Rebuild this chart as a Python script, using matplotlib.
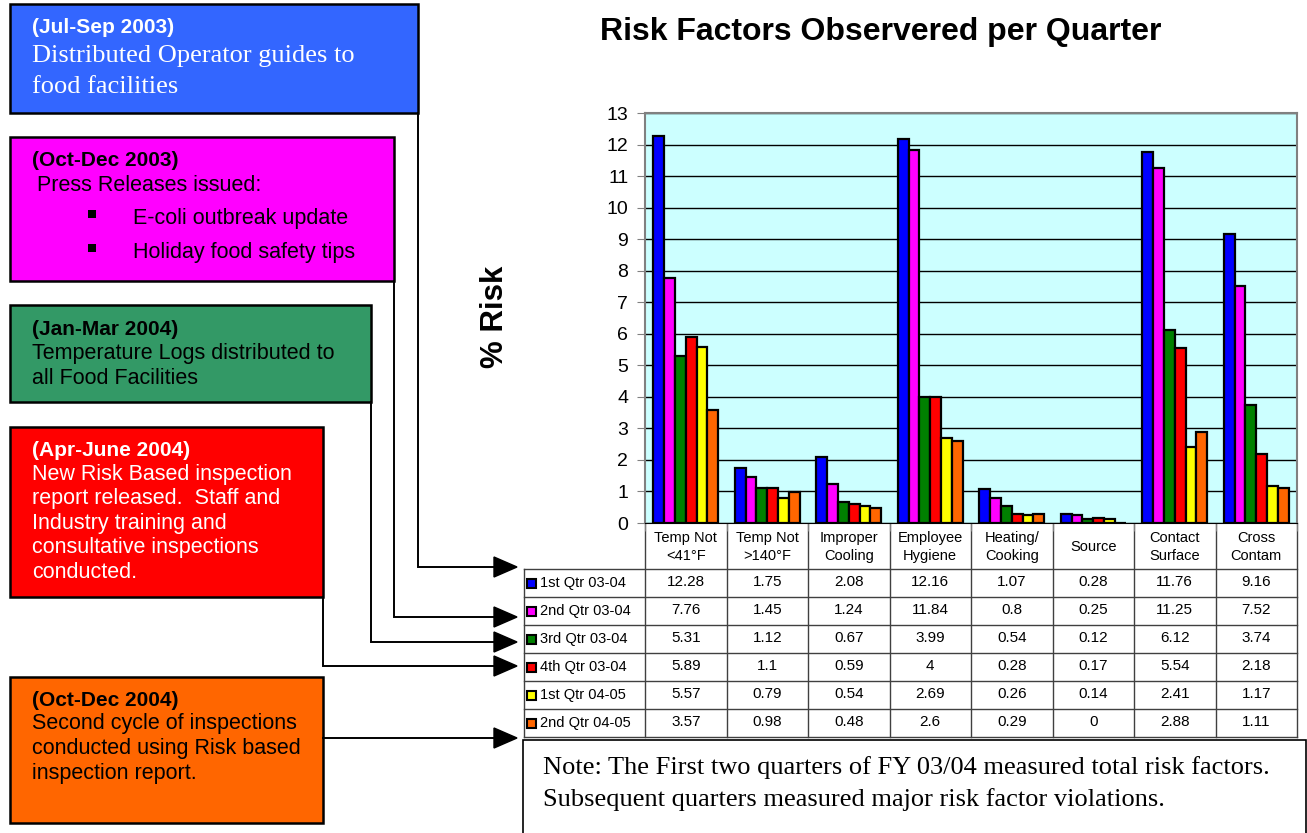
import numpy as np
import matplotlib
matplotlib.use("Agg")
import matplotlib.pyplot as plt
from matplotlib.patches import Rectangle, Polygon

# risk factor categories (table header) and quarters (table rows)
categories = ["Temp Not\n<41°F", "Temp Not\n>140°F", "Improper\nCooling", "Employee\nHygiene",
              "Heating/\nCooking", "Source", "Contact\nSurface", "Cross\nContam"]
quarters = ["1st Qtr 03-04", "2nd Qtr 03-04", "3rd Qtr 03-04",
            "4th Qtr 03-04", "1st Qtr 04-05", "2nd Qtr 04-05"]

q1_0304 = [12.28, 1.75, 2.08, 12.16, 1.07, 0.28, 11.76, 9.16]
q2_0304 = [7.76, 1.45, 1.24, 11.84, 0.8, 0.25, 11.25, 7.52]
q3_0304 = [5.31, 1.12, 0.67, 3.99, 0.54, 0.12, 6.12, 3.74]
q4_0304 = [5.89, 1.1, 0.59, 4, 0.28, 0.17, 5.54, 2.18]
q1_0405 = [5.57, 0.79, 0.54, 2.69, 0.26, 0.14, 2.41, 1.17]
q2_0405 = [3.57, 0.98, 0.48, 2.6, 0.29, 0, 2.88, 1.11]
series = [q1_0304, q2_0304, q3_0304, q4_0304, q1_0405, q2_0405]
bar_colors = ["#0000FF", "#FF00FF", "#008000", "#FF0000", "#FFFF00", "#FF6600"]

SANS = ["Liberation Sans", "DejaVu Sans"]
SERIF = ["Liberation Serif", "DejaVu Serif"]
W, H = 1307, 833

fig = plt.figure(figsize=(W / 100, H / 100), dpi=100)

# full-figure layer in pixel units for the boxes, arrows and data table
ov = fig.add_axes([0, 0, 1, 1])
ov.set_xlim(0, W)
ov.set_ylim(H, 0)
ov.axis("off")

# plot area
PL, PR, PT, PB = 645, 1297, 113, 523
ax = fig.add_axes([PL / W, 1 - PB / H, (PR - PL) / W, (PB - PT) / H])
ax.set_facecolor("#CCFFFF")
x = np.arange(len(categories))
bw = 0.8 / len(series)
for j, (vals, col) in enumerate(zip(series, bar_colors)):
    ax.bar(x + (j - 2.5) * bw, vals, bw, color=col, edgecolor="black", linewidth=1.6, zorder=3)
ax.set_xlim(-0.5, len(categories) - 0.5)
ax.set_ylim(0, 13)
ax.set_yticks(range(14))
ax.set_xticks(np.arange(-0.5, len(categories), 1))
ax.set_xticklabels([])
ax.yaxis.grid(True, color="black", linewidth=1)
ax.set_axisbelow(True)
ax.tick_params(axis="y", direction="out", length=6, color="#808080", labelsize=14, pad=6)
ax.tick_params(axis="x", direction="out", length=6, color="#808080")
for lab in ax.get_yticklabels():
    lab.set_family(SANS)
for side in ["top", "right", "left"]:
    ax.spines[side].set_color("#808080")
    ax.spines[side].set_linewidth(1.5)
ax.spines["bottom"].set_color("black")

fig.text(881 / W, 1 - 32 / H, "Risk Factors Observered per Quarter", ha="center", va="center",
         fontsize=23, fontweight="bold", family=SANS)
fig.text(495 / W, 1 - 317 / H, "% Risk", ha="center", va="center", rotation=90,
         fontsize=22.5, fontweight="bold", family=SANS)

# data table under the plot
cols = [PL + i * (PR - PL) / len(categories) for i in range(len(categories) + 1)]
TL, HT, RT, RH = 524, PB, 569, 28
RB = RT + RH * len(quarters)
for cx in cols:
    ov.plot([cx, cx], [HT, RB], color="#404040", lw=1)
ov.plot([TL, TL], [RT, RB], color="#404040", lw=1)
for k in range(len(quarters) + 1):
    ov.plot([TL, PR], [RT + k * RH, RT + k * RH], color="#404040", lw=1)
for i, name in enumerate(categories):
    ov.text((cols[i] + cols[i + 1]) / 2, (HT + RT) / 2 + 1, name, ha="center", va="center",
            fontsize=10.5, linespacing=1.45, family=SANS)
for k, (q, vals, col) in enumerate(zip(quarters, series, bar_colors)):
    cy = RT + k * RH + RH / 2
    ov.add_patch(Rectangle((527, cy - 4.5), 9, 9, facecolor=col, edgecolor="black", lw=1.5))
    ov.text(540, cy, q, ha="left", va="center", fontsize=10.5, family=SANS)
    for i, v in enumerate(vals):
        ov.text((cols[i] + cols[i + 1]) / 2, cy - 1, f"{v:g}", ha="center", va="center",
                fontsize=11, family=SANS)

# note under the table
ov.add_patch(Rectangle((523, 740), 783, 110, facecolor="white", edgecolor="black", lw=1.2))
ov.text(543, 768, "Note: The First two quarters of FY 03/04 measured total risk factors.",
        ha="left", va="center", fontsize=19, family=SERIF)
ov.text(543, 800, "Subsequent quarters measured major risk factor violations.",
        ha="left", va="center", fontsize=19, family=SERIF)

# timeline boxes: (x0, y0, x1, y1, colour)
boxes = [
    (10, 4, 418, 113, "#3366FF"),
    (10, 137, 394, 281, "#FF00FF"),
    (10, 305, 371, 402, "#339966"),
    (10, 427, 323, 597, "#FF0000"),
    (10, 677, 323, 823, "#FF6600"),
]
for x0, y0, x1, y1, col in boxes:
    ov.add_patch(Rectangle((x0, y0), x1 - x0, y1 - y0, facecolor=col, edgecolor="black", lw=1.8))

bold = dict(ha="left", va="center", fontsize=15, fontweight="bold", family=SANS)
body = dict(ha="left", va="center", fontsize=15.5, family=SANS)

ov.text(32, 27, "(Jul-Sep 2003)", color="white", **bold)
ov.text(32, 56, "Distributed Operator guides to", color="white", ha="left", va="center",
        fontsize=19, family=SERIF)
ov.text(32, 87, "food facilities", color="white", ha="left", va="center", fontsize=19, family=SERIF)

ov.text(32, 160, "(Oct-Dec 2003)", color="black", **bold)
ov.text(37, 185, "Press Releases issued:", color="black", **body)
for yy, item in [(218, "E-coli outbreak update"), (252, "Holiday food safety tips")]:
    ov.add_patch(Rectangle((88, yy - 8), 8, 8, facecolor="black", edgecolor="none"))
    ov.text(133, yy, item, color="black", **body)

ov.text(32, 329, "(Jan-Mar 2004)", color="black", **bold)
for yy, line in [(353, "Temperature Logs distributed to"), (378, "all Food Facilities")]:
    ov.text(32, yy, line, color="black", **body)

ov.text(32, 450, "(Apr-June 2004)", color="white", **bold)
red_lines = ["New Risk Based inspection", "report released.  Staff and",
             "Industry training and", "consultative inspections", "conducted."]
for k, line in enumerate(red_lines):
    ov.text(32, 474 + k * 24.5, line, color="white", **body)

ov.text(32, 700, "(Oct-Dec 2004)", color="black", **bold)
for k, line in enumerate(["Second cycle of inspections", "conducted using Risk based",
                          "inspection report."]):
    ov.text(32, 724 + k * 24.5, line, color="black", **body)

# connectors from each box to its quarter row
connectors = [
    [(418, 113), (418, 567)],
    [(394, 281), (394, 617)],
    [(371, 402), (371, 642)],
    [(323, 597), (323, 666)],
    [(323, 738), (323, 738)],
]
for pts in connectors:
    xs = [p[0] for p in pts] + [496]
    ys = [p[1] for p in pts] + [pts[-1][1]]
    ov.plot(xs, ys, color="black", lw=1.4, solid_joinstyle="miter")
    ty = pts[-1][1]
    ov.add_patch(Polygon([(494, ty - 10), (517, ty), (494, ty + 10)], closed=True,
                         facecolor="black", edgecolor="black"))

fig.savefig("out.png", dpi=100)
